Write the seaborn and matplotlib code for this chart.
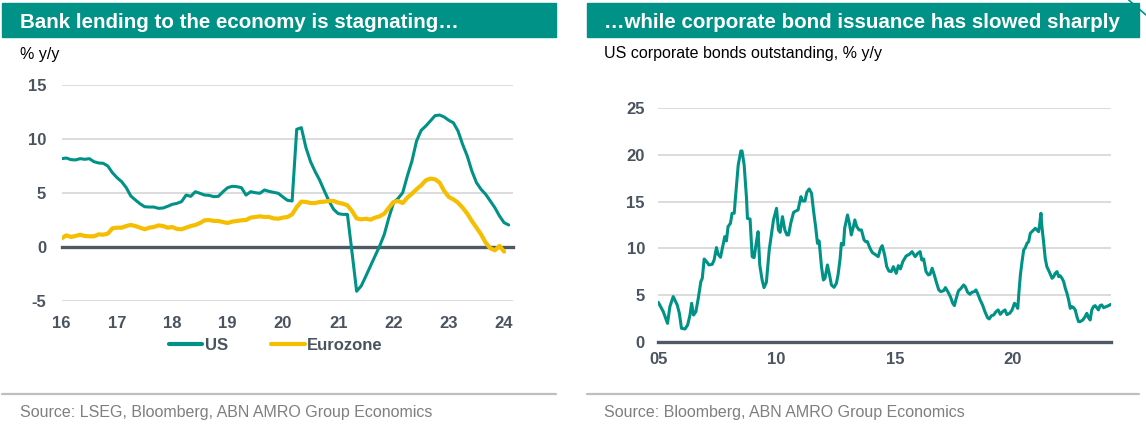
import numpy as np
import pandas as pd
import seaborn as sns
import matplotlib.pyplot as plt
from matplotlib.patches import Rectangle
from matplotlib.lines import Line2D

# --- Data ---
# Left: bank lending % y/y, monthly from Jan 2016
us_lending = [
    8.18, 8.24, 8.09, 8.06, 8.18, 8.12, 8.18, 7.90, 7.78, 7.75, 7.50, 6.88,
    6.42, 6.05, 5.50, 4.72, 4.35, 4.00, 3.73, 3.70, 3.70, 3.58, 3.61, 3.77,
    3.95, 4.04, 4.20, 4.81, 4.69, 5.12, 4.97, 4.81, 4.78, 4.66, 4.69, 5.12,
    5.49, 5.62, 5.59, 5.49, 4.81, 5.12, 5.03, 4.97, 5.28, 5.15, 5.06, 4.97,
    4.63, 4.32, 4.26, 10.9, 11.05, 9.20, 7.90, 6.98, 6.17, 5.19, 4.26, 3.49,
    3.09, 3.02, 3.02, -0.50, -4.10, -3.60, -2.70, -1.76, -0.83, 0.09, 1.17, 2.72,
    4.10, 4.50, 5.03, 6.57, 7.96, 9.81, 10.80, 11.20, 11.67, 12.16, 12.22, 12.04,
    11.73, 11.50, 10.74, 9.50, 8.43, 7.04, 5.96, 5.34, 4.88, 4.26, 3.64, 2.87,
    2.25, 2.04,
]
ez_lending = [
    0.80, 1.08, 0.93, 1.02, 1.14, 1.02, 0.99, 0.99, 1.17, 1.14, 1.23, 1.73,
    1.79, 1.79, 1.94, 2.04, 1.94, 1.79, 1.64, 1.79, 1.85, 2.00, 1.94, 1.79,
    1.85, 1.67, 1.64, 1.79, 1.94, 2.04, 2.22, 2.47, 2.50, 2.41, 2.41, 2.31,
    2.22, 2.35, 2.41, 2.47, 2.50, 2.72, 2.78, 2.84, 2.78, 2.78, 2.65, 2.62,
    2.72, 2.78, 3.02, 3.70, 4.20, 4.17, 4.07, 4.07, 4.17, 4.20, 4.26, 4.26,
    4.10, 4.01, 3.86, 3.33, 2.65, 2.56, 2.62, 2.53, 2.72, 2.84, 3.09, 3.64,
    4.17, 4.26, 4.07, 4.57, 4.94, 5.34, 5.71, 6.17, 6.33, 6.27, 5.96, 5.19,
    4.63, 4.41, 4.10, 3.64, 3.09, 2.41, 1.79, 1.17, 0.40, -0.12, -0.31, 0.10,
    -0.43,
]
lending_start = 16  # two-digit year of first month

# Right: US corporate bonds outstanding % y/y (decimal year, value)
bond_dates = [
    2005.00, 2005.21, 2005.39, 2005.49, 2005.63, 2005.80, 2005.89, 2005.98, 2006.13, 2006.24,
    2006.34, 2006.41, 2006.49, 2006.59, 2006.69, 2006.80, 2006.86, 2006.94, 2007.04, 2007.14,
    2007.28, 2007.36, 2007.46, 2007.53, 2007.63, 2007.71, 2007.81, 2007.88, 2007.95, 2008.05,
    2008.12, 2008.21, 2008.26, 2008.38, 2008.49, 2008.54, 2008.63, 2008.73, 2008.77, 2008.88,
    2008.97, 2009.05, 2009.15, 2009.22, 2009.29, 2009.39, 2009.47, 2009.57, 2009.69, 2009.79,
    2009.87, 2010.00, 2010.08, 2010.15, 2010.25, 2010.35, 2010.44, 2010.51, 2010.60, 2010.72,
    2010.82, 2010.91, 2011.03, 2011.10, 2011.20, 2011.28, 2011.38, 2011.48, 2011.56, 2011.66,
    2011.73, 2011.80, 2011.90, 2011.98, 2012.05, 2012.15, 2012.24, 2012.32, 2012.43, 2012.53,
    2012.60, 2012.69, 2012.74, 2012.83, 2012.88, 2013.00, 2013.08, 2013.16, 2013.25, 2013.31,
    2013.39, 2013.49, 2013.59, 2013.70, 2013.77, 2013.84, 2013.95, 2014.05, 2014.16, 2014.30,
    2014.40, 2014.47, 2014.57, 2014.66, 2014.75, 2014.85, 2014.94, 2015.06, 2015.15, 2015.24,
    2015.34, 2015.48, 2015.62, 2015.73, 2015.86, 2015.97, 2016.07, 2016.14, 2016.22, 2016.32,
    2016.42, 2016.49, 2016.58, 2016.67, 2016.77, 2016.86, 2016.95, 2017.07, 2017.14, 2017.24,
    2017.35, 2017.45, 2017.52, 2017.59, 2017.69, 2017.80, 2017.91, 2017.98, 2018.08, 2018.18,
    2018.26, 2018.36, 2018.43, 2018.50, 2018.61, 2018.71, 2018.81, 2018.92, 2018.99, 2019.09,
    2019.18, 2019.28, 2019.37, 2019.46, 2019.56, 2019.66, 2019.74, 2019.86, 2019.96, 2020.06,
    2020.14, 2020.20, 2020.24, 2020.31, 2020.38, 2020.45, 2020.52, 2020.59, 2020.66, 2020.73,
    2020.80, 2020.87, 2020.94, 2021.01, 2021.08, 2021.13, 2021.18, 2021.22, 2021.29, 2021.36,
    2021.43, 2021.53, 2021.65, 2021.72, 2021.78, 2021.86, 2021.93, 2021.99, 2022.07, 2022.14,
    2022.21, 2022.28, 2022.35, 2022.42, 2022.49, 2022.56, 2022.63, 2022.70, 2022.77, 2022.84,
    2022.95, 2023.05, 2023.12, 2023.19, 2023.26, 2023.33, 2023.40, 2023.47, 2023.54, 2023.61,
    2023.68, 2023.75, 2023.83, 2023.94, 2024.04, 2024.14,
]
bond_growth = [
    4.26, 3.27, 2.02, 3.80, 4.87, 3.98, 3.09, 1.49, 1.42, 1.85,
    2.91, 4.16, 2.91, 3.27, 4.69, 6.47, 6.82, 8.88, 8.60, 8.24,
    8.31, 8.77, 10.09, 9.38, 9.06, 10.02, 11.26, 10.80, 12.33, 12.68,
    13.75, 13.75, 15.35, 18.90, 20.39, 20.39, 18.90, 15.35, 13.20, 13.14,
    9.13, 9.02, 10.73, 11.79, 8.24, 6.64, 5.83, 6.40, 9.84, 11.62,
    13.04, 14.28, 11.97, 11.72, 13.39, 11.97, 11.44, 11.44, 12.68, 13.85,
    14.00, 14.10, 15.52, 15.06, 15.06, 15.99, 16.34, 15.88, 14.10, 12.15,
    10.55, 10.80, 8.06, 6.64, 6.82, 8.24, 7.18, 6.11, 5.86, 6.29,
    7.18, 8.95, 10.55, 10.37, 12.15, 13.57, 12.68, 11.44, 12.33, 13.04,
    12.33, 11.97, 11.97, 10.91, 10.73, 10.73, 10.02, 9.56, 9.38, 9.13,
    10.02, 10.30, 9.31, 8.06, 7.60, 7.53, 8.06, 7.35, 8.17, 7.82,
    8.60, 9.20, 9.38, 9.66, 9.13, 9.48, 9.66, 8.77, 8.88, 7.53,
    7.18, 7.25, 7.89, 7.18, 6.29, 5.58, 5.40, 5.51, 5.83, 5.40,
    4.87, 4.16, 3.91, 4.62, 5.47, 5.75, 6.11, 5.93, 5.33, 5.12,
    5.33, 5.40, 5.58, 5.22, 4.51, 3.98, 3.27, 2.63, 2.49, 2.84,
    2.91, 3.27, 3.45, 2.98, 3.27, 3.45, 2.95, 3.10, 3.45, 4.16,
    3.91, 3.62, 5.04, 7.18, 8.60, 9.84, 10.09, 10.55, 10.73, 11.62,
    11.79, 11.97, 12.15, 11.97, 11.79, 12.68, 13.75, 12.33, 10.73, 8.95,
    8.06, 7.53, 6.82, 7.00, 7.35, 7.53, 7.00, 7.10, 6.82, 6.47,
    5.75, 5.22, 4.51, 3.62, 3.80, 3.69, 3.45, 2.74, 2.20, 2.20,
    2.38, 2.74, 3.09, 2.63, 2.38, 3.45, 3.80, 3.91, 3.69, 3.45,
    3.91, 3.98, 3.69, 3.80, 3.91, 4.05,
]

left_xticks = [16, 17, 18, 19, 20, 21, 22, 23, 24]
left_yticks = [-5, 0, 5, 10, 15]
right_xticks = [2005, 2010, 2015, 2020]
right_xlabels = ["05", "10", "15", "20"]
right_yticks = [0, 5, 10, 15, 20, 25]

# --- Styling ---
TEAL = "#009286"
YELLOW = "#F5BE00"
AXIS = "#4F5964"
GRID = "#D9D9D9"
TXT = "#4A5460"

sns.set_style("white")
plt.rcParams['font.family'] = ['Liberation Sans', 'DejaVu Sans']
plt.rcParams['axes.unicode_minus'] = False

W, H = 1146, 429
fig = plt.figure(figsize=(W / 100, H / 100), dpi=100)
fig.patch.set_facecolor("white")


def fx(px):
    return px / W


def fy(py):
    return 1 - py / H


# --- frames: title banners, separators, sources ---
for x0, x1, title in [(2, 556, "Bank lending to the economy is stagnating\u2026"),
                      (587, 1139, "\u2026while corporate bond issuance has slowed sharply")]:
    fig.patches.append(Rectangle((fx(x0), fy(36.7)), fx(x1 - x0), 33.4 / H,
                                 transform=fig.transFigure, color=TEAL, zorder=0))
    fig.text(fx(x0 + 17.5), fy(28.3), title, color="white", fontsize=14.8,
             fontweight="bold", va="baseline", ha="left")
    fig.add_artist(Line2D([fx(x0), fx(x1)], [fy(394.3), fy(394.3)],
                          transform=fig.transFigure, color="#BFBFBF", lw=1.6))

fig.text(fx(19.6), fy(412.7), "Source: LSEG, Bloomberg, ABN AMRO Group Economics",
         color="#7F7F7F", fontsize=11.5, va="center", ha="left")
fig.text(fx(604.5), fy(412.7), "Source: Bloomberg, ABN AMRO Group Economics",
         color="#7F7F7F", fontsize=11.5, va="center", ha="left")
fig.text(fx(19.6), fy(55), "% y/y", color="black", fontsize=11.5, va="center", ha="left")
fig.text(fx(604.5), fy(53.3), "US corporate bonds outstanding, % y/y", color="black",
         fontsize=11.5, va="center", ha="left")
fig.add_artist(Line2D([fx(1128.7), fx(1146)], [fy(0), fy(15)],
                      transform=fig.transFigure, color=TEAL, lw=1.2))

# --- Left chart ---
axl = fig.add_axes([fx(61.7), fy(301), fx(513 - 61.7), (301 - 85) / H])
us_x = lending_start + np.arange(len(us_lending)) / 12
ez_x = lending_start + np.arange(len(ez_lending)) / 12
sns.lineplot(x=us_x, y=us_lending, ax=axl, color=TEAL, lw=2.2, zorder=3, label="US")
sns.lineplot(x=ez_x, y=ez_lending, ax=axl, color=YELLOW, lw=3.0, zorder=3, label="Eurozone")
axl.set_xlim(16, 16 + (513 - 61.7) / 55.3)
axl.set_ylim(-5, 15)
axl.set_xticks(left_xticks)
axl.set_xticklabels([str(t) for t in left_xticks])
axl.set_yticks(left_yticks)
axl.set_yticklabels([str(t) for t in left_yticks])
axl.spines['bottom'].set_position(('data', 0))
axl.tick_params(axis='x', direction='out', length=4, width=1.5, color=AXIS, pad=45.5)

# --- Right chart ---
axr = fig.add_axes([fx(658.3), fy(342.3), fx(1110.7 - 658.3), (342.3 - 107.7) / H])
sns.lineplot(x=bond_dates, y=bond_growth, ax=axr, color=TEAL, lw=2.2, zorder=3)
axr.set_xlim(2005, 2005 + (1110.7 - 658.3) / 23.65)
axr.set_ylim(0, 25)
axr.set_xticks(right_xticks)
axr.set_xticklabels(right_xlabels)
axr.set_yticks(right_yticks)
axr.tick_params(axis='x', direction='out', length=4, width=1.5, color=AXIS, pad=3)

for ax, ypad in [(axl, 11.3), (axr, 9.6)]:
    ax.set_facecolor("none")
    for s in ['top', 'right', 'left']:
        ax.spines[s].set_visible(False)
    ax.spines['bottom'].set_color(AXIS)
    ax.spines['bottom'].set_linewidth(2.4)
    ax.spines['bottom'].set_zorder(2.5)
    ax.yaxis.grid(True, color=GRID, lw=1.3, zorder=0)
    ax.set_axisbelow(True)
    ax.tick_params(axis='y', length=0, pad=ypad)
    ax.tick_params(labelsize=12, labelcolor=TXT)
    for lab in ax.get_xticklabels() + ax.get_yticklabels():
        lab.set_fontweight("bold")
    ax.set_xlabel("")
    ax.set_ylabel("")

leg = axl.legend(loc="center", bbox_to_anchor=(fx(276), fy(345)),
                 bbox_transform=fig.transFigure, ncol=2, frameon=False,
                 handlelength=2.0, handletextpad=0.15, columnspacing=2.6,
                 prop={"size": 12, "weight": "bold"})
for t in leg.get_texts():
    t.set_color(TXT)
for h in leg.get_lines():
    h.set_linewidth(3.0)

fig.savefig("out.png", dpi=100)
